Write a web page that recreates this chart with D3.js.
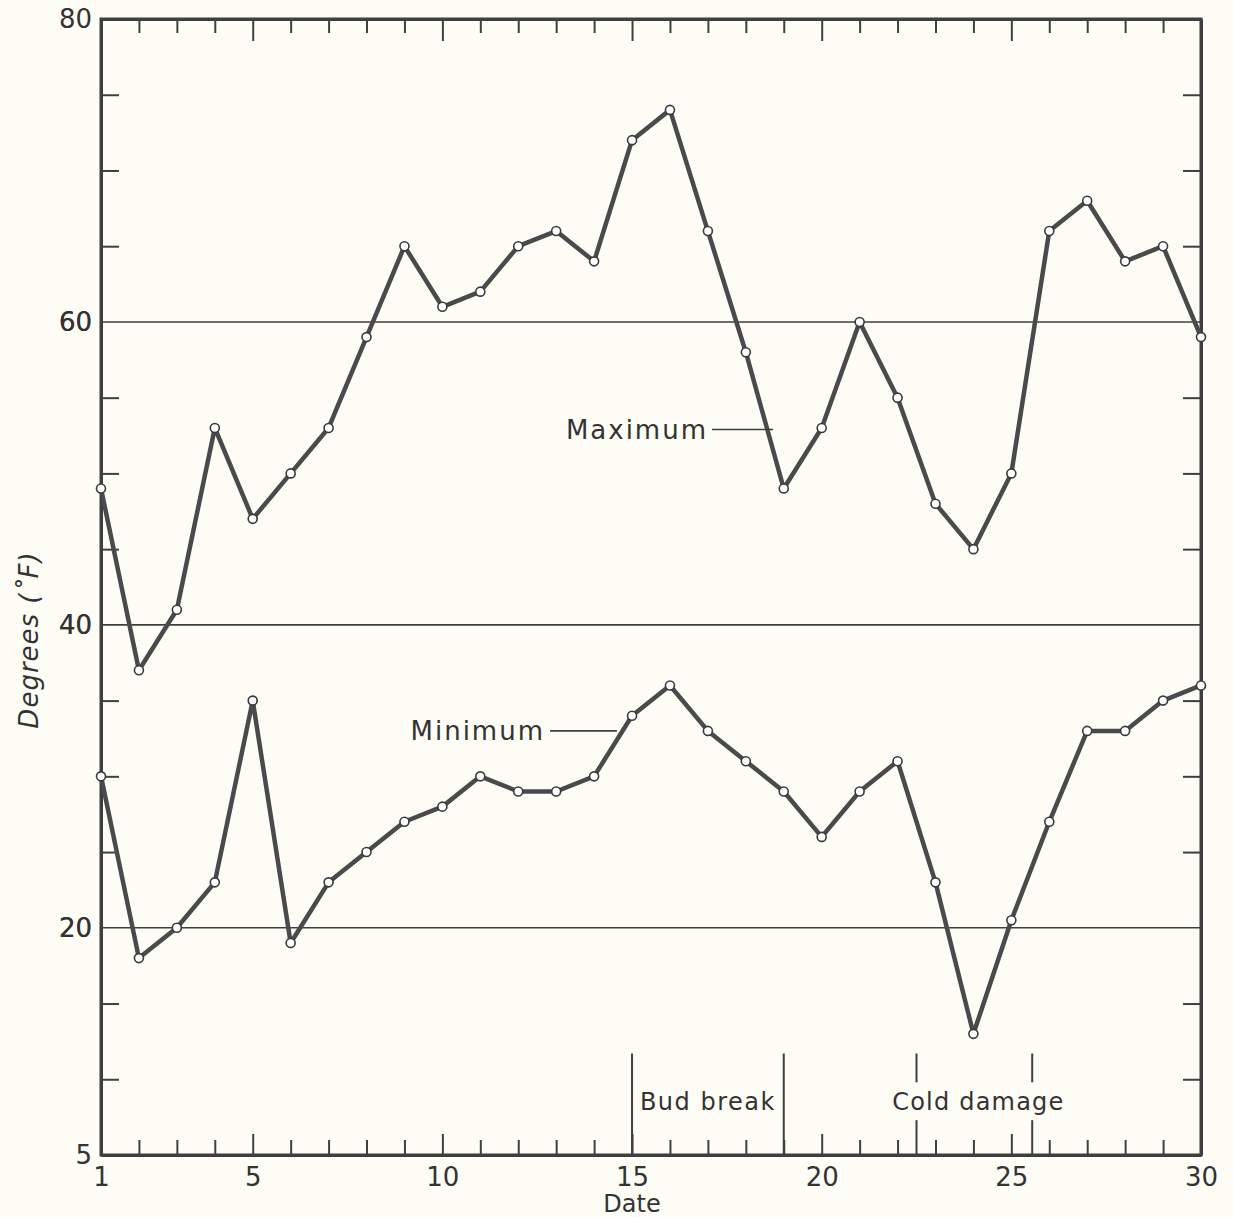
<!DOCTYPE html>
<html>
<head>
<meta charset="utf-8">
<script src="https://cdn.jsdelivr.net/npm/d3@7"></script>
<style>
  html, body { margin: 0; padding: 0; background: #fdfcf5; }
  svg { display: block; }
  .axis path { stroke: #3f3f3f; stroke-width: 3px; }
  .axis line { stroke: #3f3f3f; stroke-width: 2px; }
  .axis text { font-family: "DejaVu Sans", sans-serif; font-size: 26px; fill: #333; }
</style>
</head>
<body>
<div id="chart"></div>
<script>
const Width = 1233;
const Height = 1217;
const Margin = { top: 19, right: 32, bottom: 62, left: 101 };

// Data
const days = d3.range(1, 31);
const maxTemp = [49, 37, 41, 53, 47, 50, 53, 59, 65, 61, 62, 65, 66, 64, 72, 74, 66, 58, 49, 53, 60, 55, 48, 45, 50, 66, 68, 64, 65, 59];
const minTemp = [30, 18, 20, 23, 35, 19, 23, 25, 27, 28, 30, 29, 29, 30, 34, 36, 33, 31, 29, 26, 29, 31, 23, 13, 20.5, 27, 33, 33, 35, 36];
const xLabels = [1, 5, 10, 15, 20, 25, 30];
const yLabels = [80, 60, 40, 20, 5];
const yTicks = [10, 15, 20, 25, 30, 35, 40, 45, 50, 55, 60, 65, 70, 75];
const gridValues = [60, 40, 20];
const budBreak = [15, 19];
const coldDamage = [22.5, 25.55];

const x = d3.scaleLinear().domain([1, 30]).range([Margin.left, Width - Margin.right]);
const y = d3.scaleLinear().domain([5, 80]).range([Height - Margin.bottom, Margin.top]);

const ink = '#3f3f3f';

const svg = d3.select('#chart')
    .append('svg')
    .attr('width', Width)
    .attr('height', Height)
    .attr('viewBox', [0, 0, Width, Height]);

// Gridlines
svg.append('g')
    .selectAll('line')
    .data(gridValues)
    .join('line')
    .attr('x1', x(1))
    .attr('x2', x(30))
    .attr('y1', d => y(d))
    .attr('y2', d => y(d))
    .attr('stroke', ink)
    .attr('stroke-width', 1.6);

// Bottom axis (ticks inward)
const xBottom = svg.append('g')
    .attr('class', 'axis')
    .attr('transform', `translate(0, ${y(5)})`)
    .call(d3.axisBottom(x)
        .tickValues(days)
        .tickSizeInner(-15)
        .tickSizeOuter(0)
        .tickPadding(10)
        .tickFormat(d => (xLabels.includes(d) ? d : '')));
xBottom.selectAll('.tick line')
    .attr('y2', d => (d % 5 === 0 ? -21 : -15));
xBottom.selectAll('.tick text')
    .attr('y', 11)
    .attr('dy', '0.75em');

// Top axis
const xTop = svg.append('g')
    .attr('class', 'axis')
    .attr('transform', `translate(0, ${y(80)})`)
    .call(d3.axisTop(x)
        .tickValues(days)
        .tickSizeInner(-14)
        .tickSizeOuter(0)
        .tickFormat(''));
xTop.selectAll('.tick line')
    .attr('y2', d => (d % 5 === 0 ? 22 : 14));

// Left axis
svg.append('g')
    .attr('class', 'axis')
    .attr('transform', `translate(${x(1)}, 0)`)
    .call(d3.axisLeft(y)
        .tickValues(yTicks.concat(yLabels))
        .tickSizeInner(-18)
        .tickSizeOuter(0)
        .tickPadding(9)
        .tickFormat(d => (yLabels.includes(d) ? d : '')))
    .call(g => g.selectAll('.tick line').filter(d => yLabels.includes(d)).remove());

// Right axis
svg.append('g')
    .attr('class', 'axis')
    .attr('transform', `translate(${x(30)}, 0)`)
    .call(d3.axisRight(y)
        .tickValues(yTicks)
        .tickSizeInner(-18)
        .tickSizeOuter(0)
        .tickFormat(''))
    .call(g => g.selectAll('.tick').filter(d => gridValues.includes(d)).remove());

// Frame on top and right
svg.append('rect')
    .attr('x', x(1))
    .attr('y', y(80))
    .attr('width', x(30) - x(1))
    .attr('height', y(5) - y(80))
    .attr('fill', 'none')
    .attr('stroke', ink)
    .attr('stroke-width', 3);

// Bud break / cold damage markers
const events = svg.append('g').attr('stroke', ink).attr('stroke-width', 2);
events.selectAll('line.bud')
    .data(budBreak)
    .join('line')
    .attr('class', 'bud')
    .attr('x1', d => x(d))
    .attr('x2', d => x(d))
    .attr('y1', y(11.7))
    .attr('y2', y(5));
events.selectAll('line.coldA')
    .data(coldDamage)
    .join('line')
    .attr('class', 'coldA')
    .attr('x1', d => x(d))
    .attr('x2', d => x(d))
    .attr('y1', y(11.7))
    .attr('y2', y(9.8));
events.selectAll('line.coldB')
    .data(coldDamage)
    .join('line')
    .attr('class', 'coldB')
    .attr('x1', d => x(d))
    .attr('x2', d => x(d))
    .attr('y1', y(7.3))
    .attr('y2', y(5));

const labelFont = '"DejaVu Sans", sans-serif';
svg.append('text')
    .attr('x', x(d3.mean(budBreak)))
    .attr('y', y(8.5))
    .attr('dy', '0.35em')
    .attr('text-anchor', 'middle')
    .attr('font-family', labelFont)
    .attr('font-size', 24)
    .attr('letter-spacing', 1.5)
    .attr('fill', '#333')
    .text('Bud break');
svg.append('text')
    .attr('x', x(d3.mean(coldDamage)) + 4)
    .attr('y', y(8.5))
    .attr('dy', '0.35em')
    .attr('text-anchor', 'middle')
    .attr('font-family', labelFont)
    .attr('font-size', 24)
    .attr('letter-spacing', 1.2)
    .attr('fill', '#333')
    .text('Cold damage');

// Series lines and points
const line = d3.line()
    .x((d, i) => x(days[i]))
    .y(d => y(d));

[maxTemp, minTemp].forEach(series => {
    svg.append('path')
        .datum(series)
        .attr('fill', 'none')
        .attr('stroke', '#4a4a4a')
        .attr('stroke-width', 4.5)
        .attr('stroke-linejoin', 'round')
        .attr('d', line);

    svg.append('g')
        .selectAll('circle')
        .data(series)
        .join('circle')
        .attr('cx', (d, i) => x(days[i]))
        .attr('cy', d => y(d))
        .attr('r', 4.5)
        .attr('fill', '#fff')
        .attr('stroke', '#3a3a3a')
        .attr('stroke-width', 1.6);
});

// Series labels with leader lines
function seriesLabel(text, xEnd, yVal, lineStart, lineEnd) {
    svg.append('text')
        .attr('x', xEnd)
        .attr('y', y(yVal))
        .attr('dy', '0.35em')
        .attr('text-anchor', 'end')
        .attr('font-family', labelFont)
        .attr('font-size', 26)
        .attr('font-weight', 500)
        .attr('letter-spacing', 2)
        .attr('fill', '#333')
        .text(text);
    svg.append('line')
        .attr('x1', lineStart)
        .attr('x2', lineEnd)
        .attr('y1', y(yVal))
        .attr('y2', y(yVal))
        .attr('stroke', ink)
        .attr('stroke-width', 1.6);
}
seriesLabel('Maximum', 708, 52.9, 712, x(18.72));
seriesLabel('Minimum', 545, 33, 550, x(14.6));

// Axis titles
svg.append('text')
    .attr('transform', `translate(38, ${y(39)}) rotate(-90)`)
    .attr('text-anchor', 'middle')
    .attr('font-family', labelFont)
    .attr('font-size', 26)
    .attr('font-style', 'italic')
    .attr('letter-spacing', 1)
    .attr('fill', '#333')
    .text('Degrees (˚F)');

svg.append('text')
    .attr('x', x(15))
    .attr('y', 1212)
    .attr('text-anchor', 'middle')
    .attr('font-family', labelFont)
    .attr('font-size', 24)
    .attr('fill', '#333')
    .text('Date');
</script>
</body>
</html>
